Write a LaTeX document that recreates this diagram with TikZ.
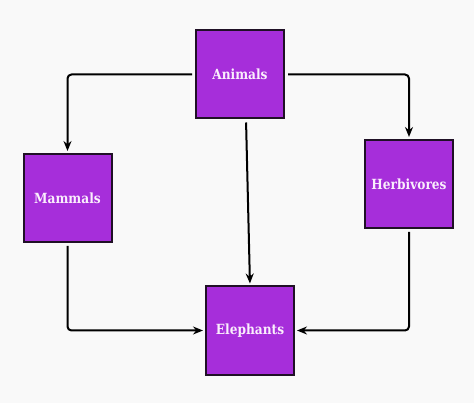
\documentclass[tikz,border=0pt]{standalone}
\usepackage{fontspec}
\usepackage{tikz}
\usepackage{xcolor}
\usetikzlibrary{arrows.meta}
\newfontfamily\slabfont[FakeStretch=0.87]{DejaVu Serif}
\definecolor{boxfill}{RGB}{166,46,218}
\definecolor{boxline}{RGB}{32,16,38}
\definecolor{paper}{RGB}{249,249,249}
\definecolor{labeltext}{RGB}{250,238,252}

\begin{document}
\begin{tikzpicture}[x=1pt,y=-1pt,
animalbox/.style={draw=boxline,line width=2pt,fill=boxfill,minimum width=88pt,minimum height=88pt,inner sep=0pt,
text=labeltext,font=\slabfont\bfseries\fontsize{14}{16}\selectfont},
link/.style={line width=2pt,rounded corners=4pt,shorten <=3pt,shorten >=2pt,-{Stealth[length=10pt,width=8pt]}}]
\fill[paper] (0,0) rectangle (474,403);
\node[animalbox] (animals) at (240,74.5) {Animals};
\node[animalbox] (mammals) at (67.5,198) {Mammals};
\node[animalbox] (herbivores) at (409,184) {Herbivores};
\node[animalbox] (elephants) at (250,330.5) {Elephants};
\draw[link] (animals.west) -| (mammals.north);
\draw[link] (animals.east) -| (herbivores.north);
\draw[link] ([xshift=6pt]animals.south) -- (elephants.north);
\draw[link] (mammals.south) |- (elephants.west);
\draw[link] (herbivores.south) |- (elephants.east);
\end{tikzpicture}
\end{document}
